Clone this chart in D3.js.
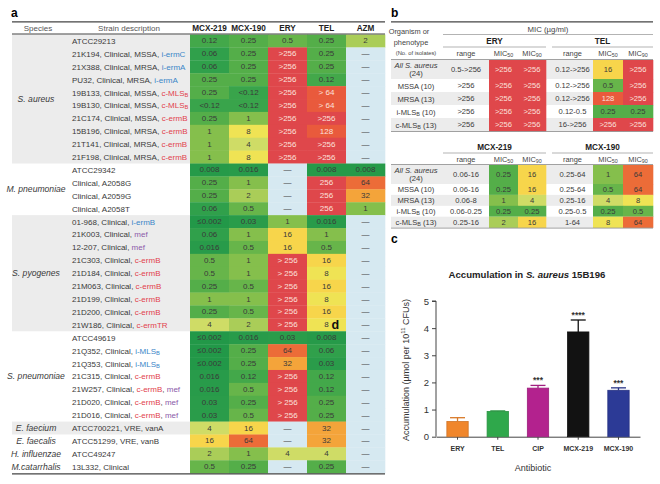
<!DOCTYPE html>
<html><head><meta charset="utf-8">
<script src="https://cdn.jsdelivr.net/npm/d3@7"></script>
<style>
body{margin:0;background:#fff}
svg{display:block;font-family:"Liberation Sans",Arial,Helvetica,sans-serif}
</style>
</head><body>
<svg id="fig" width="660" height="484"></svg>
<script>
// ================= DATA =================
// Panel a
const drugColumns = ["MCX-219", "MCX-190", "ERY", "TEL", "AZM"];
const speciesNames = ["S. aureus", "M. pneumoniae", "S. pyogenes", "S. pneumoniae", "E. faecium", "E. faecalis", "H. influenzae", "M.catarrhalis"];
const speciesCounts = [10, 4, 9, 7, 1, 1, 1, 1];
const speciesShaded = [true, false, true, false, true, false, false, false];
const strainNames = [
  "ATCC29213", "21K194, Clinical, MSSA, ", "21X388, Clinical, MRSA, ", "PU32, Clinical, MRSA, ",
  "19B133, Clinical, MSSA, ", "19B130, Clinical, MSSA, ", "21C174, Clinical, MSSA, ", "15B196, Clinical, MRSA, ",
  "21T141, Clinical, MRSA, ", "21F198, Clinical, MRSA, ",
  "ATCC29342", "Clinical, A2058G", "Clinical, A2059G", "Clinical, A2058T",
  "01-968, Clinical, ", "21K003, Clinical, ", "12-207, Clinical, ", "21C303, Clinical, ", "21D184, Clinical, ",
  "21M063, Clinical, ", "21D199, Clinical, ", "21D200, Clinical, ", "21W186, Clinical, ",
  "ATCC49619", "21Q352, Clinical, ", "21Q353, Clinical, ", "21C315, Clinical, ", "21W257, Clinical, ",
  "21D020, Clinical, ", "21D016, Clinical, ",
  "ATCC700221, VRE, vanA", "ATCC51299, VRE, vanB", "ATCC49247", "13L332, Clinical"
];
const strainMarkers = [
  "", "i-ermC", "i-ermA", "i-ermA", "c-MLS_B", "c-MLS_B", "c-ermB", "c-ermB", "c-ermB", "c-ermB",
  "", "", "", "",
  "i-ermB", "mef", "mef", "c-ermB", "c-ermB", "c-ermB", "c-ermB", "c-ermB", "c-ermTR",
  "", "i-MLS_B", "i-MLS_B", "c-ermB", "c-ermB, mef", "c-ermB, mef", "c-ermB, mef",
  "", "", "", ""
];
const micMCX219 = ["0.12","0.06","0.06","0.25","0.25","<0.12","0.25","1","1","1",
  "0.008","0.25","0.25","0.06",
  "≤0.002","0.06","0.016","0.5","0.5","0.25","1","0.25","4",
  "≤0.002","≤0.002","≤0.002","0.016","0.016","0.03","0.03",
  "4","16","2","0.5"];
const micMCX190 = ["0.25","0.25","0.25","0.25","<0.12","<0.12","1","8","4","8",
  "0.016","1","2","0.5",
  "0.03","1","0.5","1","1","0.5","1","0.5","2",
  "0.016","0.25","0.25","0.12","0.5","0.25","0.5",
  "16","64","1","0.25"];
const micERY = ["0.5",">256",">256",">256",">256",">256",">256",">256",">256",">256",
  "—","—","—","—",
  "1","16","16","> 256","> 256","> 256","> 256","> 256","> 256",
  "0.03","64","32","> 256","> 256","> 256","> 256",
  "—","—","4","—"];
const micTEL = ["0.25","0.25","0.25","0.12","> 64","> 64",">256","128",">256",">256",
  "0.008","256","256","256",
  "0.016","1","0.5","16","8","16","8","16","8",
  "0.008","0.06","0.03","0.12","0.12","0.25","0.25",
  "32","32","4","0.25"];
const micAZM = ["2","—","—","—","—","—","—","—","—","—",
  "0.008","64","32","1",
  "—","—","—","—","—","—","—","—","—",
  "—","—","—","—","—","—","—",
  "—","—","—","—"];

// Panel b
const phenotypes = ["All S. aureus|(24)", "MSSA (10)", "MRSA (13)", "i-MLS_B (10)", "c-MLS_B (13)"];
const eryRange = ["0.5->256", ">256", ">256", ">256", ">256"];
const eryMIC50 = [">256", ">256", ">256", ">256", ">256"];
const eryMIC90 = [">256", ">256", ">256", ">256", ">256"];
const telRange = ["0.12->256", "0.12->256", "0.12->256", "0.12-0.5", "16->256"];
const telMIC50 = ["16", "0.5", "128", "0.25", ">256"];
const telMIC90 = [">256", ">256", ">256", "0.25", ">256"];
const mcx219Range = ["0.06-16", "0.06-16", "0.06-8", "0.06-0.25", "0.25-16"];
const mcx219MIC50 = ["0.25", "0.25", "1", "0.25", "2"];
const mcx219MIC90 = ["16", "16", "4", "0.25", "16"];
const mcx190Range = ["0.25-64", "0.25-64", "0.25-16", "0.25-0.5", "1-64"];
const mcx190MIC50 = ["1", "0.5", "4", "0.25", "8"];
const mcx190MIC90 = ["64", "64", "8", "0.5", "64"];

// Panel c
const antibiotics = ["ERY", "TEL", "CIP", "MCX-219", "MCX-190"];
const accumulation = [0.56, 0.93, 1.79, 3.86, 1.71];
const accumulationErr = [0.14, 0.02, 0.10, 0.44, 0.09];
const significance = ["", "", "***", "****", "***"];

// ================= DRAWING =================
const svg = d3.select("#fig");
svg.append("rect").attr("width", 660).attr("height", 484).attr("fill", "#fff");

const micColor = d3.scaleLinear()
  .domain([-9, -5, -4, -3, -2, -1, 0, 1, 2, 3, 4, 5, 6, 7, 8])
  .range(["#229848", "#2a9c4a", "#30a04b", "#44a94a", "#54ae49", "#67b54a", "#85bf4c", "#aacd58",
          "#cfdc66", "#efe354", "#f7d54b", "#f4a43a", "#ec6c38", "#e95a3c", "#df474b"])
  .clamp(true);
const dashFill = "#d6e9f1";
function micLevel(s) {
  const t = s.replace(/\s/g, "");
  let l = Math.log2(parseFloat(t.replace(/[<>≤]/g, "")));
  if (t.startsWith(">")) l += 1;
  if (t.startsWith("<") || t.startsWith("≤")) l -= 0.5;
  return l;
}
function cellFill(s) { return s === "—" ? dashFill : micColor(micLevel(s)); }
function cellText(s) { return (s !== "—" && micLevel(s) >= 6.5) ? "#fbe1dc" : "#3a3a3a"; }

// rich text with "_X" subscripts
function appendRich(textSel, str, fill, italic) {
  const parts = str.split(/_(\w+)/);
  let shifted = false;
  parts.forEach((p, i) => {
    if (i % 2 === 1) {
      const t = textSel.append("tspan").attr("dy", 2).attr("font-size", "0.72em").text(p);
      if (fill) t.attr("fill", fill);
      shifted = true;
    } else {
      if (!p) return;
      const t = textSel.append("tspan").text(p);
      if (shifted) { t.attr("dy", -2); shifted = false; }
      if (fill) t.attr("fill", fill);
      if (italic) t.attr("font-style", "italic");
    }
  });
}

// ---------- Panel a ----------
const ga = svg.append("g");
ga.append("text").attr("x", 11).attr("y", 17).attr("font-size", 12).attr("font-weight", "bold").text("a");

const tableL = 12, tableR = 385;
const yRow = d3.scaleBand().domain(d3.range(strainNames.length)).range([34.5, 473.2]);
const xCol = d3.scaleBand().domain(drugColumns).range([190, tableR]);
const rh = yRow.bandwidth();

// species bands
let start = 0;
speciesNames.forEach((name, i) => {
  const n = speciesCounts[i];
  const y0 = yRow(start), y1 = yRow(start) + n * rh;
  if (speciesShaded[i]) ga.append("rect").attr("x", tableL).attr("y", y0).attr("width", 190 - tableL).attr("height", y1 - y0).attr("fill", "#ececec");
  ga.append("text").attr("x", 36).attr("y", (y0 + y1) / 2).attr("dominant-baseline", "central")
    .attr("text-anchor", "middle").attr("font-size", 8.6).attr("font-style", "italic").attr("fill", "#3a3a3a").text(name);
  start += n;
});

// strain descriptions
const markerColor = m => m.startsWith("i-") ? "#3b86c8" : m.startsWith("c-") ? "#e2424c" : m === "mef" ? "#8b5aa9" : "#3a3a3a";
strainNames.forEach((s, i) => {
  const t = ga.append("text").attr("x", 72).attr("y", yRow(i) + rh / 2).attr("dominant-baseline", "central")
    .attr("font-size", 8).attr("fill", "#3a3a3a");
  t.append("tspan").text(s);
  if (strainMarkers[i]) {
    strainMarkers[i].split(", ").forEach((m, k) => {
      if (k > 0) t.append("tspan").attr("fill", "#3a3a3a").text(", ");
      appendRich(t, m, markerColor(m));
    });
  }
});

// MIC cells
const micCols = [micMCX219, micMCX190, micERY, micTEL, micAZM];
drugColumns.forEach((d, c) => {
  const col = ga.append("g");
  col.selectAll("rect").data(micCols[c]).join("rect")
    .attr("x", xCol(d)).attr("y", (v, i) => yRow(i)).attr("width", xCol.bandwidth() + 0.3).attr("height", rh + 0.3)
    .attr("fill", cellFill);
  col.selectAll("text").data(micCols[c]).join("text")
    .attr("x", xCol(d) + xCol.bandwidth() / 2).attr("y", (v, i) => yRow(i) + rh / 2)
    .attr("dominant-baseline", "central").attr("text-anchor", "middle").attr("font-size", 8)
    .attr("fill", cellText).text(v => v);
  ga.append("text").attr("x", xCol(d) + xCol.bandwidth() / 2).attr("y", 28.3).attr("dominant-baseline", "central")
    .attr("text-anchor", "middle").attr("font-size", 8.2).attr("font-weight", "bold").attr("fill", "#222").text(d);
});
ga.append("text").attr("x", 38).attr("y", 28.3).attr("dominant-baseline", "central").attr("text-anchor", "middle")
  .attr("font-size", 8).attr("fill", "#555").text("Species");
ga.append("text").attr("x", 129).attr("y", 28.3).attr("dominant-baseline", "central").attr("text-anchor", "middle")
  .attr("font-size", 8).attr("fill", "#555").text("Strain description");
ga.append("line").attr("x1", tableL).attr("x2", tableR).attr("y1", 21.8).attr("y2", 21.8).attr("stroke", "#444").attr("stroke-width", 1.3);
ga.append("line").attr("x1", tableL).attr("x2", tableR).attr("y1", 34).attr("y2", 34).attr("stroke", "#444").attr("stroke-width", 1.1);
ga.append("line").attr("x1", tableL).attr("x2", tableR).attr("y1", 473.8).attr("y2", 473.8).attr("stroke", "#444").attr("stroke-width", 1.3);
// overlapping "d" panel label
ga.append("text").attr("x", 331.5).attr("y", 329).attr("font-size", 12.5).attr("font-weight", "bold").attr("fill", "#111").text("d");

// ---------- Panel b ----------
const gb = svg.append("g");
gb.append("text").attr("x", 391).attr("y", 17).attr("font-size", 12).attr("font-weight", "bold").text("b");
const bL = 391, bR = 653;
const subCols = [[443, 489], [489, 518], [518, 546], [552, 593], [593, 623], [623, 653]];

function drawMicTable(drugNames, cols, nameY, lineY, subY, ruleY, rowTops) {
  // header
  drugNames.forEach((d, k) => {
    const x0 = subCols[k * 3][0], x1 = subCols[k * 3 + 2][1];
    gb.append("text").attr("x", (x0 + x1) / 2).attr("y", nameY).attr("dominant-baseline", "central")
      .attr("text-anchor", "middle").attr("font-size", 8.2).attr("font-weight", "bold").attr("fill", "#222").text(d);
    gb.append("line").attr("x1", x0).attr("x2", x1).attr("y1", lineY).attr("y2", lineY).attr("stroke", "#aaa").attr("stroke-width", 0.9);
    ["range", "MIC_50", "MIC_90"].forEach((h, j) => {
      const sc = subCols[k * 3 + j];
      const t = gb.append("text").attr("x", (sc[0] + sc[1]) / 2).attr("y", subY).attr("dominant-baseline", "central")
        .attr("text-anchor", "middle").attr("font-size", 7.4).attr("fill", "#444");
      appendRich(t, h);
    });
  });
  gb.append("line").attr("x1", bL).attr("x2", bR).attr("y1", ruleY).attr("y2", ruleY).attr("stroke", "#444").attr("stroke-width", 1.2);
  // rows
  phenotypes.forEach((p, i) => {
    const y0 = rowTops[i], y1 = rowTops[i + 1];
    if (i % 2 === 0) gb.append("rect").attr("x", bL).attr("y", y0).attr("width", bR - bL).attr("height", y1 - y0).attr("fill", "#ececec");
    const cy = (y0 + y1) / 2;
    if (p.includes("|")) {
      const [a, b] = p.split("|");
      gb.append("text").attr("x", 416).attr("y", cy - 4.3).attr("dominant-baseline", "central").attr("text-anchor", "middle")
        .attr("font-size", 7.6).attr("font-style", "italic").attr("fill", "#3a3a3a").text(a);
      gb.append("text").attr("x", 416).attr("y", cy + 4.3).attr("dominant-baseline", "central").attr("text-anchor", "middle")
        .attr("font-size", 7.6).attr("fill", "#3a3a3a").text(b);
    } else {
      const t = gb.append("text").attr("x", 416).attr("y", cy).attr("dominant-baseline", "central").attr("text-anchor", "middle")
        .attr("font-size", 7.6).attr("fill", "#3a3a3a");
      appendRich(t, p);
    }
    cols.forEach((arr, j) => {
      const sc = subCols[j], v = arr[i];
      const isRange = j % 3 === 0;
      if (!isRange) gb.append("rect").attr("x", sc[0]).attr("y", y0).attr("width", sc[1] - sc[0] + 0.3).attr("height", y1 - y0 + 0.3).attr("fill", cellFill(v));
      gb.append("text").attr("x", (sc[0] + sc[1]) / 2).attr("y", cy).attr("dominant-baseline", "central").attr("text-anchor", "middle")
        .attr("font-size", 7.6).attr("fill", isRange ? "#3a3a3a" : cellText(v)).text(v);
    });
  });
  gb.append("line").attr("x1", bL).attr("x2", bR).attr("y1", rowTops[rowTops.length - 1] + 0.5).attr("y2", rowTops[rowTops.length - 1] + 0.5)
    .attr("stroke", "#888").attr("stroke-width", 0.8);
}

// top table header
gb.append("line").attr("x1", bL).attr("x2", bR).attr("y1", 21.8).attr("y2", 21.8).attr("stroke", "#444").attr("stroke-width", 1.3);
gb.append("text").attr("x", 548).attr("y", 29).attr("dominant-baseline", "central").attr("text-anchor", "middle")
  .attr("font-size", 7.8).attr("fill", "#444").text("MIC (µg/ml)");
gb.append("line").attr("x1", 443).attr("x2", bR).attr("y1", 34.5).attr("y2", 34.5).attr("stroke", "#aaa").attr("stroke-width", 0.9);
gb.append("text").attr("x", 409).attr("y", 31.5).attr("dominant-baseline", "central").attr("text-anchor", "middle")
  .attr("font-size", 7.4).attr("fill", "#444").text("Organism or");
gb.append("text").attr("x", 411).attr("y", 42.5).attr("dominant-baseline", "central").attr("text-anchor", "middle")
  .attr("font-size", 7.4).attr("fill", "#444").text("phenotype");
gb.append("text").attr("x", 416).attr("y", 53).attr("dominant-baseline", "central").attr("text-anchor", "middle")
  .attr("font-size", 5.8).attr("fill", "#444").text("(No. of isolates)");

const topRows = [60, 79, 92, 105, 118, 131];
drawMicTable(["ERY", "TEL"], [eryRange, eryMIC50, eryMIC90, telRange, telMIC50, telMIC90], 41.3, 47, 53.2, 60, topRows);
const lowRows = [165, 184, 194.9, 205.8, 216.7, 227.6];
drawMicTable(["MCX-219", "MCX-190"], [mcx219Range, mcx219MIC50, mcx219MIC90, mcx190Range, mcx190MIC50, mcx190MIC90], 147, 153, 159.3, 165, lowRows);

// ---------- Panel c ----------
const gc = svg.append("g");
gc.append("text").attr("x", 391).attr("y", 243).attr("font-size", 12).attr("font-weight", "bold").text("c");
const title = gc.append("text").attr("x", 527).attr("y", 274).attr("dominant-baseline", "central").attr("text-anchor", "middle")
  .attr("font-size", 9.6).attr("font-weight", "bold").attr("fill", "#222");
title.append("tspan").text("Accumulation in ");
title.append("tspan").attr("font-style", "italic").text("S. aureus");
title.append("tspan").text(" 15B196");

const x = d3.scaleBand().domain(antibiotics).range([436, 640]).paddingInner(0.47).paddingOuter(0.27);
const y = d3.scaleLinear().domain([0, 5]).range([436.7, 301]);
const barColor = d3.scaleOrdinal().domain(antibiotics).range(["#f0862b", "#2fa84b", "#b3228e", "#121212", "#2c3a96"]);

const yAxis = gc.append("g").attr("transform", "translate(436,0)")
  .call(d3.axisLeft(y).tickValues([0, 1, 2, 3, 4, 5]).tickFormat(d3.format("d")).tickSize(4).tickPadding(3));
yAxis.selectAll("text").attr("font-size", 9.5).attr("fill", "#333");
yAxis.selectAll("line,path").attr("stroke", "#444");
yAxis.select("path").attr("d", `M-4,${y(5)}H0V${y(0)}`);

const xAxis = gc.append("g").attr("transform", `translate(0,${y(0)})`)
  .call(d3.axisBottom(x).tickSize(3).tickPadding(6).tickSizeOuter(0));
xAxis.selectAll("text").attr("font-size", 7).attr("font-weight", "bold").attr("fill", "#333");
xAxis.selectAll("line,path").attr("stroke", "#444");

gc.selectAll("rect.bar").data(antibiotics).join("rect").attr("class", "bar")
  .attr("x", d => x(d)).attr("width", x.bandwidth())
  .attr("y", (d, i) => y(accumulation[i])).attr("height", (d, i) => y(0) - y(accumulation[i]))
  .attr("fill", d => barColor(d)).attr("stroke", d => d3.color(barColor(d)).darker(0.4)).attr("stroke-width", 0.8);

antibiotics.forEach((d, i) => {
  const cx = x(d) + x.bandwidth() / 2, top = y(accumulation[i] + accumulationErr[i]);
  const col = d3.color(barColor(d)).darker(0.3);
  gc.append("line").attr("x1", cx).attr("x2", cx).attr("y1", y(accumulation[i])).attr("y2", top).attr("stroke", col).attr("stroke-width", 1.3);
  gc.append("line").attr("x1", cx - 7.5).attr("x2", cx + 7.5).attr("y1", top).attr("y2", top).attr("stroke", col).attr("stroke-width", 1.3);
  if (significance[i]) gc.append("text").attr("x", cx).attr("y", top - 2).attr("text-anchor", "middle")
    .attr("font-size", 8.5).attr("font-weight", "bold").attr("fill", "#333").text(significance[i]);
});

const yl = gc.append("text").attr("transform", "translate(406,370) rotate(-90)").attr("dominant-baseline", "central")
  .attr("text-anchor", "middle").attr("font-size", 9).attr("fill", "#333");
yl.append("tspan").text("Accumulation (µmol per 10");
yl.append("tspan").attr("dy", -3.5).attr("font-size", 6).text("11");
yl.append("tspan").attr("dy", 3.5).text(" CFUs)");

gc.append("text").attr("x", 533).attr("y", 468).attr("dominant-baseline", "central").attr("text-anchor", "middle")
  .attr("font-size", 9).attr("fill", "#333").text("Antibiotic");
</script>
</body></html>
